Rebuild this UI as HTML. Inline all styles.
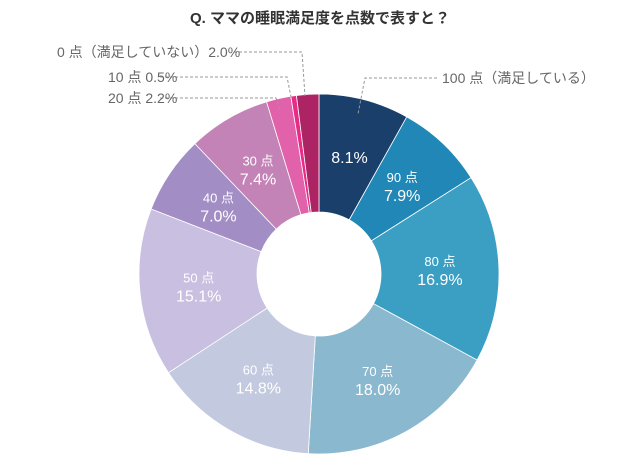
<!DOCTYPE html>
<html><head><meta charset="utf-8">
<style>
body{margin:0;background:#fff;}
svg{display:block;font-family:"Liberation Sans","Noto Sans CJK JP",sans-serif;}
</style></head>
<body>
<svg width="640" height="466" viewBox="0 0 640 466">
<text x="320" y="23" text-anchor="middle" font-size="15" font-weight="bold" fill="#333">Q. ママの睡眠満足度を点数で表すと？</text>
<g id="slices"></g>
<g id="labels"></g>
<g stroke="#999" stroke-width="1" stroke-dasharray="3,2" fill="none">
<polyline points="234,52 302,52 305,96"/>
<polyline points="160,77 287,77 291,97"/>
<polyline points="160,98 276,98 280,110"/>
<polyline points="437,78 365,78 358,114"/>
</g>
<g font-size="14" fill="#666">
<text x="57" y="57">0 点（満足していない）2.0%</text>
<text x="108" y="82">10 点 0.5%</text>
<text x="108" y="103">20 点 2.2%</text>
<text x="442" y="83">100 点（満足している）</text>
</g>
</svg>
<script>
const categories=["100点","90点","80点","70点","60点","50点","40点","30点","20点","10点","0点"];
const values=[8.1,7.9,16.9,18.0,14.8,15.1,7.0,7.4,2.2,0.5,2.0];
const showName=[false,true,true,true,true,true,true,true,false,false,false];
const showInside=[true,true,true,true,true,true,true,true,false,false,false];
const colors=["#1b3f6b","#2087b6","#3a9fc2","#8ab9cf","#c3cadf","#c9bfe0","#a28dc4","#c483b6","#e162aa","#e82b86","#ad2465"];
const cx=319,cy=274,R=180,r=62;
const ns="http://www.w3.org/2000/svg";
const total=values.reduce((a,b)=>a+b,0);
const sg=document.getElementById('slices'),lg=document.getElementById('labels');
function pt(a,rad){return [cx+rad*Math.sin(a),cy-rad*Math.cos(a)];}
let acc=0;
values.forEach((v,i)=>{
 const a0=acc/total*2*Math.PI;acc+=v;const a1=acc/total*2*Math.PI;
 const large=(a1-a0)>Math.PI?1:0;
 const p0=pt(a0,R),p1=pt(a1,R),q1=pt(a1,r),q0=pt(a0,r);
 const p=document.createElementNS(ns,'path');
 p.setAttribute('d',`M${p0}L${p0}A${R},${R} 0 ${large} 1 ${p1}L${q1}A${r},${r} 0 ${large} 0 ${q0}Z`);
 p.setAttribute('fill',colors[i]);p.setAttribute('stroke','#fff');p.setAttribute('stroke-width','0.8');
 
 
 sg.appendChild(p);
 if(showInside[i]){
  const m=pt((a0+a1)/2,121);
  if(showName[i]){
   const t=document.createElementNS(ns,'text');
   t.setAttribute('x',m[0]);t.setAttribute('y',m[1]-4);t.setAttribute('text-anchor','middle');
   t.setAttribute('font-size','13');t.setAttribute('fill','#fff');
   t.textContent=categories[i].replace('点',' 点');
   
   
   lg.appendChild(t);
  }
  const t2=document.createElementNS(ns,'text');
  t2.setAttribute('x',m[0]);t2.setAttribute('y',showName[i]?m[1]+15:m[1]+6);t2.setAttribute('text-anchor','middle');
  t2.setAttribute('font-size','16');t2.setAttribute('fill','#fff');
  t2.textContent=v.toFixed(1)+'%';
  
  
  lg.appendChild(t2);
 }
});
</script>
</body></html>
